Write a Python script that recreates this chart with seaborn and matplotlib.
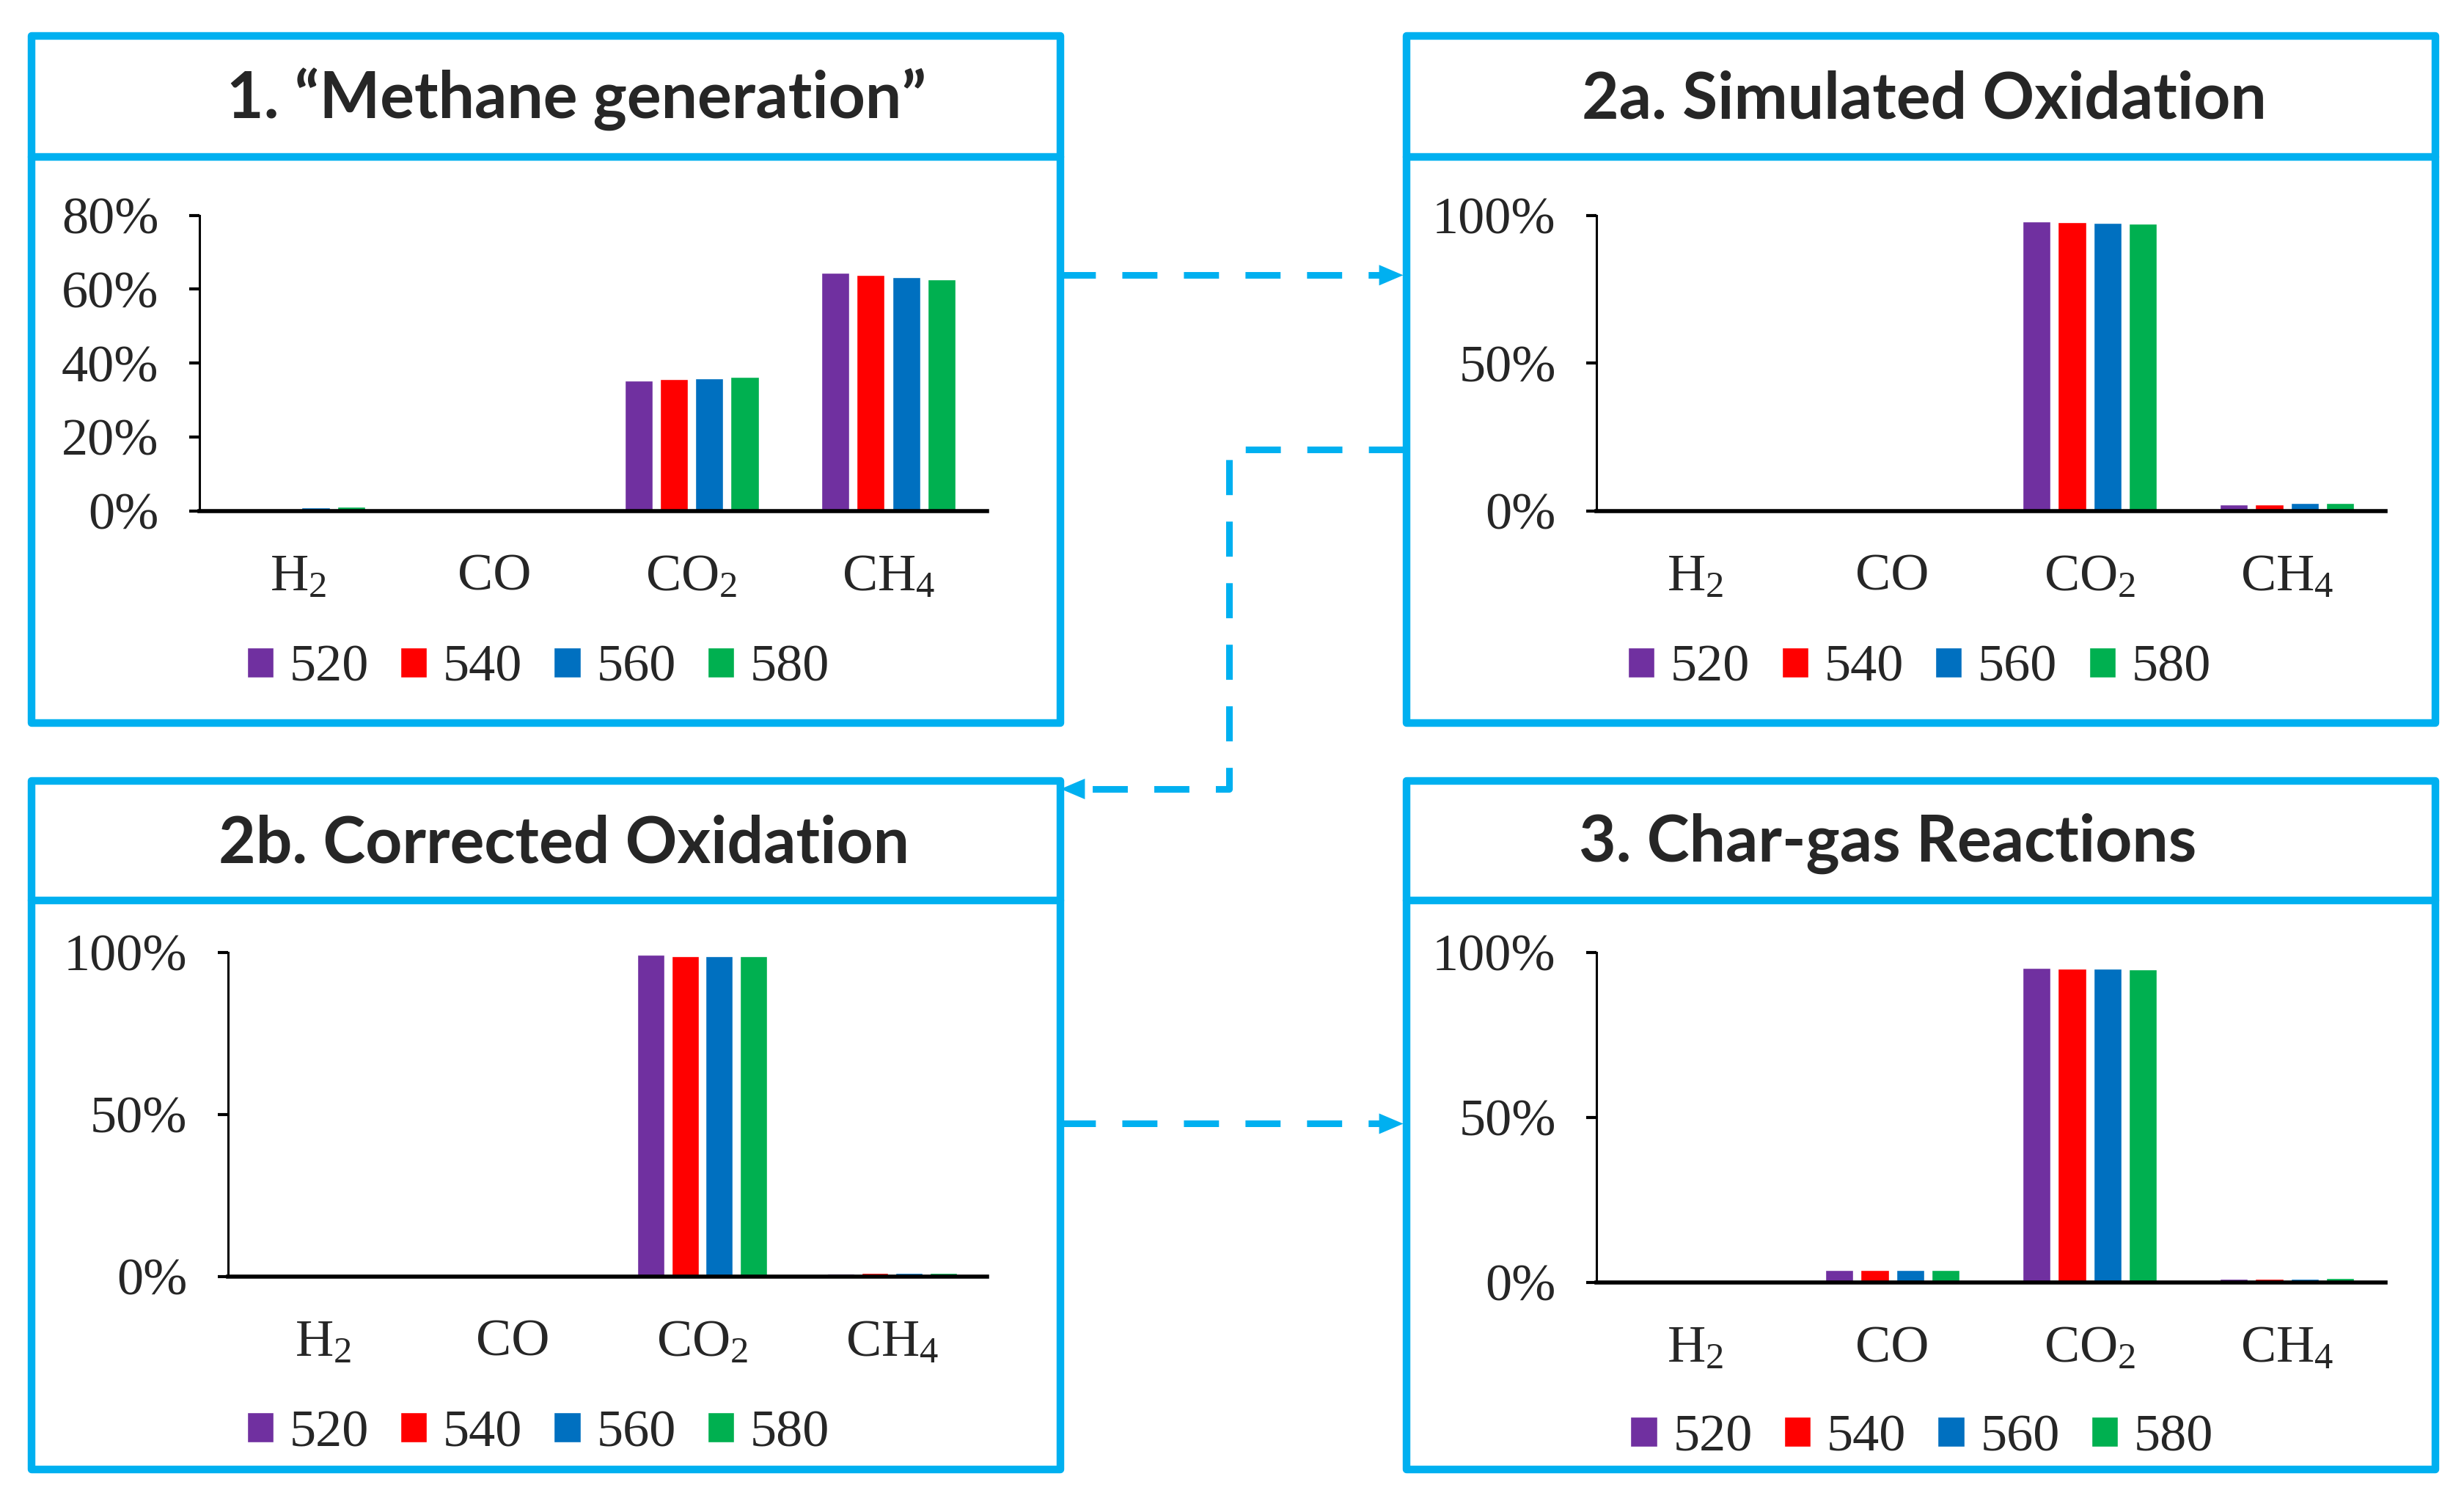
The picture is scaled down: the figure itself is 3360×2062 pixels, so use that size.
import matplotlib.pyplot as plt
import seaborn as sns
import pandas as pd
from matplotlib.patches import Rectangle, Polygon
from matplotlib.lines import Line2D

# gas composition (%) for each temperature 520/540/560/580
temps = ['520', '540', '560', '580']
gases = ['H2', 'CO', 'CO2', 'CH4']
gas_labels = ['H$_2$', 'CO', 'CO$_2$', 'CH$_4$']
colors = ['#7030A0', '#FF0000', '#0070C0', '#00B050']

p1_h2 = [0.4, 0.6, 0.9, 1.1]
p1_co = [0.0, 0.0, 0.0, 0.0]
p1_co2 = [35.2, 35.6, 35.8, 36.2]
p1_ch4 = [64.4, 63.8, 63.3, 62.6]

p2a_h2 = [0.0, 0.0, 0.0, 0.0]
p2a_co = [0.0, 0.0, 0.0, 0.0]
p2a_co2 = [97.8, 97.6, 97.4, 97.1]
p2a_ch4 = [2.2, 2.2, 2.5, 2.7]

p2b_h2 = [0.0, 0.0, 0.0, 0.0]
p2b_co = [0.0, 0.0, 0.0, 0.0]
p2b_co2 = [99.2, 98.9, 98.9, 98.8]
p2b_ch4 = [0.7, 1.0, 1.0, 1.1]

p3_h2 = [0.0, 0.0, 0.0, 0.0]
p3_co = [3.8, 3.8, 3.8, 3.8]
p3_co2 = [95.3, 95.1, 95.1, 94.8]
p3_ch4 = [1.2, 1.1, 1.1, 1.4]

titles = ['1. \u201cMethane generation\u201d', '2a. Simulated Oxidation',
          '2b. Corrected Oxidation', '3. Char-gas Reactions']

sns.set_style('white')
plt.rcParams['font.family'] = ['Liberation Serif', 'DejaVu Serif']
plt.rcParams['mathtext.default'] = 'regular'

BLUE = '#00B0F0'
FS = 52


def long_df(h2, co, co2, ch4):
    rows = []
    for g, vals in zip(gases, [h2, co, co2, ch4]):
        for t, v in zip(temps, vals):
            rows.append({'gas': g, 'temp': t, 'val': v / 100})
    return pd.DataFrame(rows)


def panel(fig, rect, df, ymax, yticks, leg_xy):
    ax = fig.add_axes(rect)
    sns.barplot(data=df, x='gas', y='val', hue='temp', palette=colors,
                width=0.72, gap=0.21, errorbar=None, ax=ax, legend=True, saturation=1)
    ax.set_xlim(-0.5, 3.5)
    ax.set_ylim(0, ymax)
    ax.set_yticks(yticks)
    ax.set_yticklabels(['{:.0f}%'.format(y * 100) for y in yticks], fontsize=FS)
    ax.set_xticks(range(4))
    ax.set_xticklabels(gas_labels, fontsize=FS)
    ax.set_xticks([-0.5, 0.5, 1.5, 2.5, 3.5], minor=True)
    ax.tick_params(axis='x', which='major', length=0, pad=42)
    ax.tick_params(axis='x', which='minor', length=20, width=2.2, direction='out', color='black')
    ax.tick_params(axis='y', length=10, width=3, direction='out', color='black', pad=30, left=True)
    ax.set_xlabel('')
    ax.set_ylabel('')
    for s in ['top', 'right']:
        ax.spines[s].set_visible(False)
    ax.spines['left'].set_color('black')
    ax.spines['left'].set_linewidth(2.2)
    ax.spines['bottom'].set_color('black')
    ax.spines['bottom'].set_linewidth(4)
    ax.spines['bottom'].set_zorder(5)
    handles, labels = ax.get_legend_handles_labels()
    ax.legend(handles, labels, ncol=4, frameon=False, fontsize=FS,
              handlelength=0.5, handleheight=0.5, handletextpad=0.3,
              columnspacing=0.6, loc='center', bbox_to_anchor=leg_xy,
              bbox_transform=fig.transFigure, borderpad=0)
    return ax


def box(fig, x0, x1, ytop, ybot, ydiv, title, tx):
    fig.add_artist(Rectangle((x0, ybot), x1 - x0, ytop - ybot, transform=fig.transFigure,
                             fill=False, edgecolor=BLUE, linewidth=7.5, joinstyle='round'))
    fig.add_artist(Line2D([x0, x1], [ydiv, ydiv], transform=fig.transFigure,
                          color=BLUE, linewidth=7.5))
    fig.text(tx, (ytop + ydiv) / 2 - 0.002, title, fontsize=63, fontweight='bold',
             family=['Lato', 'DejaVu Sans'], ha='center', va='center')


def dashed_arrow(fig, xs, ys):
    # dashed path, solid head pointing along the last segment (horizontal)
    hl, hw = 0.0098, 0.0068
    tipx, tipy = xs[-1], ys[-1]
    direction = 1 if xs[-1] > xs[-2] else -1
    lx = list(xs[:-1]) + [tipx - direction * hl]
    fig.add_artist(Line2D(lx, ys, transform=fig.transFigure, color=BLUE,
                          linewidth=6.5, linestyle=(0, (5.3, 4)),
                          dash_capstyle='butt', solid_joinstyle='miter'))
    fig.add_artist(Polygon([(tipx, tipy), (tipx - direction * hl, tipy + hw),
                            (tipx - direction * hl, tipy - hw)], closed=True,
                           transform=fig.transFigure, color=BLUE, linewidth=0))


fig = plt.figure(figsize=(33.6, 20.62), dpi=100)

panel(fig, [0.0810, 0.6622, 0.3195, 0.1954], long_df(p1_h2, p1_co, p1_co2, p1_ch4),
      0.8, [0, 0.2, 0.4, 0.6, 0.8], (0.2184, 0.558))
panel(fig, [0.6480, 0.6622, 0.3202, 0.1954], long_df(p2a_h2, p2a_co, p2a_co2, p2a_ch4),
      1.0, [0, 0.5, 1.0], (0.779, 0.558))
panel(fig, [0.0925, 0.1559, 0.3080, 0.2142], long_df(p2b_h2, p2b_co, p2b_co2, p2b_ch4),
      1.0, [0, 0.5, 1.0], (0.2184, 0.052))
panel(fig, [0.6480, 0.1518, 0.3202, 0.2183], long_df(p3_h2, p3_co, p3_co2, p3_ch4),
      1.0, [0, 0.5, 1.0], (0.780, 0.049))

box(fig, 0.01276, 0.4305, 0.9761, 0.5218, 0.896, titles[0], 0.234)
box(fig, 0.5708, 0.9885, 0.9761, 0.5218, 0.896, titles[1], 0.781)
box(fig, 0.01276, 0.4305, 0.4834, 0.0281, 0.4044, titles[2], 0.229)
box(fig, 0.5708, 0.9885, 0.4834, 0.0281, 0.4044, titles[3], 0.766)

dashed_arrow(fig, [0.4305, 0.5695], [0.818, 0.818])
dashed_arrow(fig, [0.5695, 0.4987, 0.4987, 0.4305], [0.7027, 0.7027, 0.4782, 0.4782])
dashed_arrow(fig, [0.4305, 0.5695], [0.2568, 0.2568])

fig.savefig('out.png', dpi=100, facecolor='white')
